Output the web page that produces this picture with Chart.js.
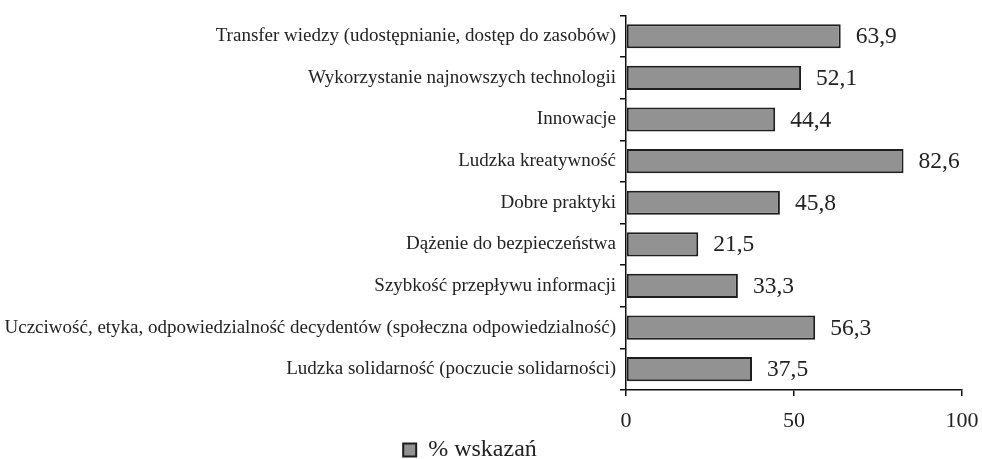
<!DOCTYPE html>
<html>
<head>
<meta charset="utf-8">
<script src="https://cdn.jsdelivr.net/npm/chart.js@4"></script>
<style>
  html, body { margin: 0; padding: 0; background: #fff; }
  #wrap { width: 982px; height: 459px; }
</style>
</head>
<body>
<div id="wrap"><canvas id="chart"></canvas></div>
<script>
const categories = [
    'Transfer wiedzy (udostępnianie, dostęp do zasobów)',
    'Wykorzystanie najnowszych technologii',
    'Innowacje',
    'Ludzka kreatywność',
    'Dobre praktyki',
    'Dążenie do bezpieczeństwa',
    'Szybkość przepływu informacji',
    'Uczciwość, etyka, odpowiedzialność decydentów (społeczna odpowiedzialność)',
    'Ludzka solidarność (poczucie solidarności)'
];
const values = [63.9, 52.1, 44.4, 82.6, 45.8, 21.5, 33.3, 56.3, 37.5];
const xTicks = [0, 50, 100];
const seriesName = '% wskazań';

const serif = "'Liberation Serif', 'Times New Roman', serif";

// value labels next to bars, with a decimal comma
const barValues = {
    id: 'barValues',
    afterDatasetsDraw(chart) {
        const ctx = chart.ctx;
        const meta = chart.getDatasetMeta(0);
        ctx.save();
        ctx.font = '23.5px ' + serif;
        ctx.fillStyle = '#222';
        ctx.textBaseline = 'middle';
        ctx.textAlign = 'left';
        meta.data.forEach((bar, i) => {
            ctx.fillText(values[i].toFixed(1).replace('.', ','), bar.x + 15, bar.y + 1);
        });
        ctx.restore();
    }
};

// legend sits a bit left of centre and lower, as in the source
const moveLegend = {
    id: 'moveLegend',
    afterLayout(chart) {
        const lg = chart.legend;
        lg.left -= 11; lg.right -= 11;
        lg.top += 8; lg.bottom += 8;
    }
};

const chart = document.querySelector('#chart').getContext('2d');
new Chart(chart, {
    type: 'bar',
    data: {
        labels: categories,
        datasets: [
            {
                label: seriesName,
                data: values,
                backgroundColor: '#929292',
                borderColor: '#1e1e1e',
                borderWidth: 2,
                borderSkipped: false,
                barPercentage: 0.58,
                categoryPercentage: 1
            }
        ]
    },
    options: {
        indexAxis: 'y',
        responsive: true,
        maintainAspectRatio: false,
        animation: false,
        layout: { padding: { top: 14, right: 20, left: 0, bottom: -5 } },
        scales: {
            x: {
                min: 0,
                max: 100,
                afterBuildTicks: (scale) => { scale.ticks = xTicks.map(v => ({ value: v })); },
                border: { color: '#111', width: 1.5 },
                grid: { drawOnChartArea: false, drawTicks: true, tickLength: 6, color: '#111', lineWidth: 1.5 },
                ticks: { color: '#222', font: { family: serif, size: 22 }, padding: 12, maxRotation: 0 },
                afterFit: (scale) => {
                    scale.height = 40;
                    scale.paddingLeft = 0;
                    scale.paddingRight = 0;
                }
            },
            y: {
                border: { color: '#111', width: 1.5 },
                grid: { drawOnChartArea: false, drawTicks: true, tickLength: 6, color: '#111', lineWidth: 1.5 },
                ticks: { color: '#222', font: { family: serif, size: 19 }, padding: 4, autoSkip: false },
                afterFit: (scale) => { scale.width = 626; }
            }
        },
        plugins: {
            legend: {
                position: 'bottom',
                labels: {
                    color: '#222',
                    font: { family: serif, size: 24 },
                    boxWidth: 13,
                    boxHeight: 13,
                    padding: 0
                }
            },
            tooltip: { enabled: false }
        }
    },
    plugins: [barValues, moveLegend]
});
</script>
</body>
</html>
